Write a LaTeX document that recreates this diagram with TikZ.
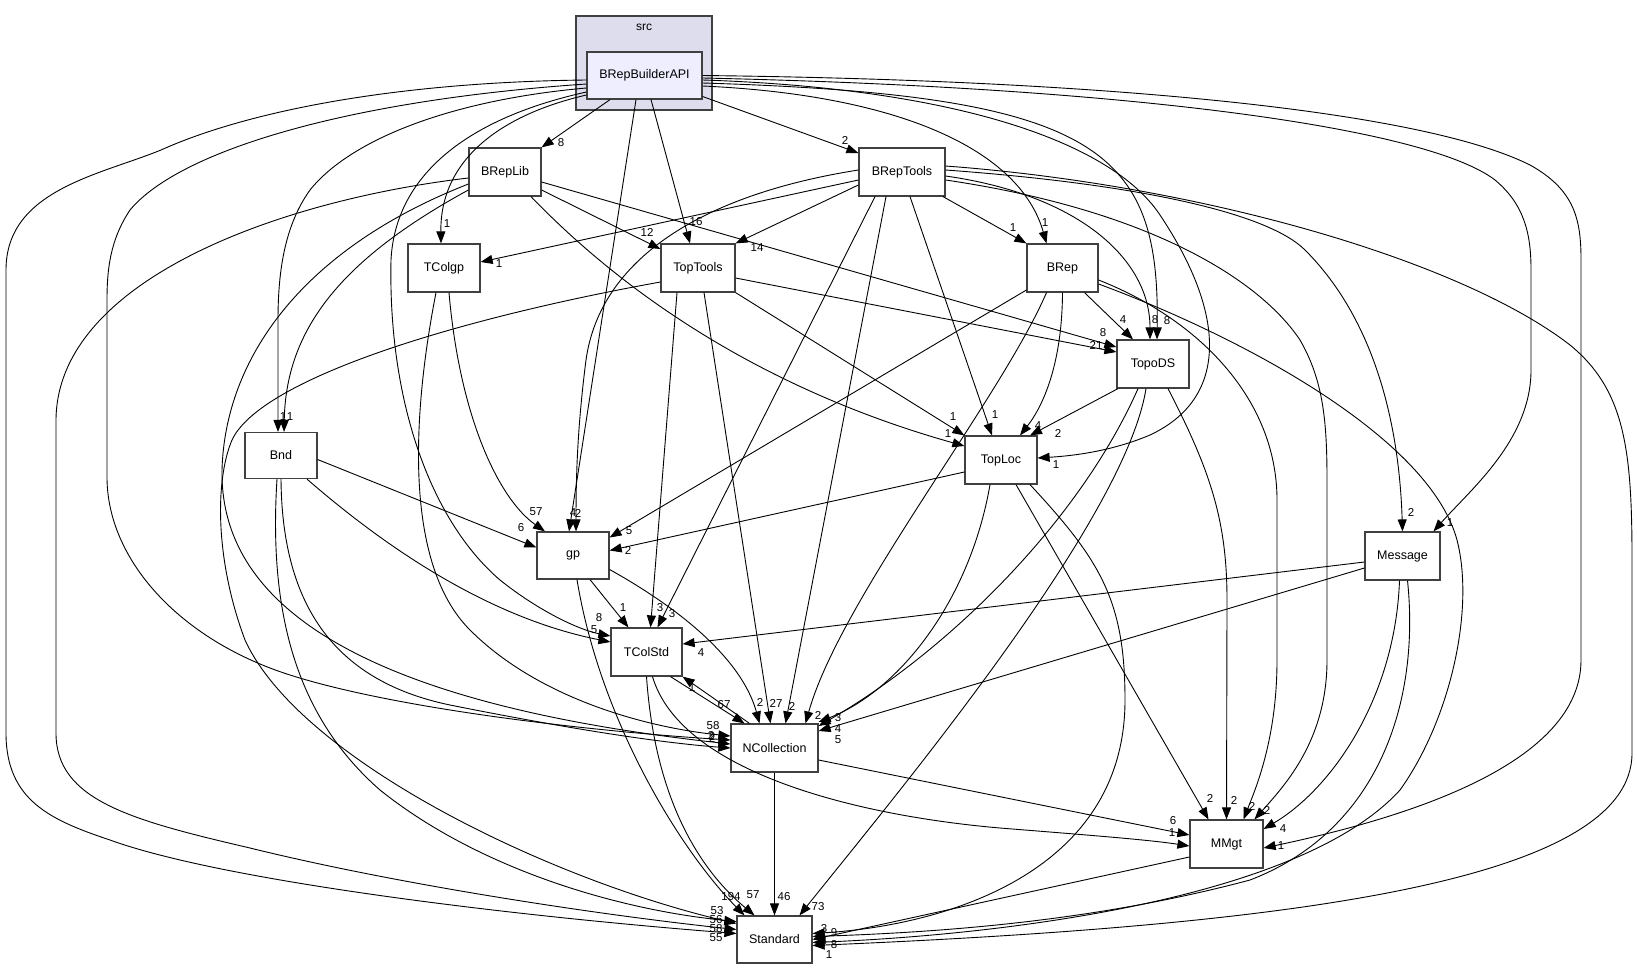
\documentclass[tikz,border=0pt]{standalone}
\usepackage{fontspec}
\setmainfont{Liberation Sans}
\usetikzlibrary{arrows.meta}
\definecolor{clusterbg}{RGB}{221,221,238}
\definecolor{apibg}{RGB}{238,238,255}
\definecolor{boxline}{RGB}{64,64,64}

\begin{document}
\begin{tikzpicture}[
    x=1pt, y=-1pt,
    pkg/.style={rectangle, draw=boxline, line width=1.2pt, fill=white, minimum width=72pt, minimum height=48pt, inner sep=0pt, font=\fontsize{12.5}{14}\selectfont},
    cluster/.style={rectangle, draw=boxline, line width=1.2pt, fill=clusterbg, inner sep=0pt},
    dep/.style={-{Triangle[length=12pt,width=9pt]}, line width=0.9pt},
    lbl/.style={font=\fontsize{11.5}{12}\selectfont, inner sep=0pt}
]
    \fill[white] (0,0) rectangle (1637,969);
    \useasboundingbox (0,0) rectangle (1637,969);

    \node[cluster, minimum width=136pt, minimum height=94pt] (srcbox) at (644,63) {};
    \node[font=\fontsize{12}{14}\selectfont] (srclbl) at (644,27) {src};
    \node[pkg, fill=apibg, minimum width=115pt, minimum height=47pt] (api) at (644.5,75.5) {BRepBuilderAPI};

    \node[pkg] (breplib) at (505,172) {BRepLib};
    \node[pkg, minimum width=86pt] (breptools) at (902,172) {BRepTools};
    \node[pkg] (tcolgp) at (444,268) {TColgp};
    \node[pkg, minimum width=74pt] (toptools) at (698,268) {TopTools};
    \node[pkg, minimum width=71pt] (brep) at (1062.5,268) {BRep};
    \node[pkg] (topods) at (1153,364) {TopoDS};
    \node[pkg, minimum height=46pt] (bnd) at (281,455.5) {Bnd};
    \node[pkg] (toploc) at (1001,460) {TopLoc};
    \node[pkg, minimum height=47pt] (gp) at (573,555.5) {gp};
    \node[pkg, minimum width=75pt] (message) at (1402.5,556) {Message};
    \node[pkg, minimum width=71pt] (tcolstd) at (646.5,652) {TColStd};
    \node[pkg, minimum width=87pt] (ncoll) at (774.5,748) {NCollection};
    \node[pkg, minimum width=73pt] (mmgt) at (1226.5,844) {MMgt};
    \node[pkg, minimum width=75pt, minimum height=47pt] (standard) at (774.5,939.5) {Standard};

    % BRepBuilderAPI
    \draw[dep] ([xshift=-34.5pt]api.south) -- (breplib.north east) node[lbl] at (561,143) {8};
    \draw[dep] ([yshift=-21pt]api.east) -- ([yshift=19pt]breptools.west) node[lbl] at (845,140) {2};
    \draw[dep] ([xshift=6.5pt]api.south) -- ([xshift=-8pt]toptools.north) node[lbl] at (696,222) {16};
    \draw[dep] ([xshift=-8.5pt]api.south) -- ([xshift=-4pt]gp.north) node[lbl] at (573,513) {4};
    \draw[dep] ([yshift=-19.5pt]api.west) .. controls (500,115) and (440,160) .. ([xshift=-3pt]tcolgp.north) node[lbl] at (447,224) {1};
    \draw[dep] ([yshift=-12.5pt]api.west) .. controls (450,100) and (350,140) .. (310,190) .. controls (285,225) and (278,270) .. (278,320) -- ([xshift=-3pt]bnd.north) node[lbl] at (283,417) {1};
    \draw[dep] ([yshift=-16.5pt]api.west) .. controls (460,120) and (395,180) .. (391,260) .. controls (388,400) and (430,520) .. (500,580) .. controls (540,612) and (580,630) .. ([yshift=16pt]tcolstd.west) node[lbl] at (599,618) {8};
    \draw[dep] ([yshift=-8.5pt]api.west) .. controls (350,100) and (180,150) .. (130,210) .. controls (110,240) and (107,270) .. (107,300) -- (107,477) .. controls (107,560) and (180,640) .. (290,675) .. controls (400,710) and (600,732) .. ([yshift=8pt]ncoll.west) node[lbl] at (712,736) {2};
    \draw[dep] ([yshift=-4.5pt]api.west) .. controls (400,82) and (250,110) .. (161,150) .. controls (100,175) and (6,190) .. (6,270) -- (6,733) .. controls (6,800) and (50,820) .. (110,840) .. controls (220,880) and (500,915) .. ([yshift=6pt]standard.west) node[lbl] at (716,938) {55};
    \draw[dep] (api.east) .. controls (1100,80) and (1420,110) .. (1530,165) .. controls (1575,190) and (1581,220) .. (1581,260) -- (1581,660) .. controls (1581,760) and (1420,815) .. ([yshift=-4pt]mmgt.east) node[lbl] at (1281,846) {1};
    \draw[dep] ([yshift=-2.5pt]api.east) .. controls (1150,88) and (1430,130) .. (1495,180) .. controls (1525,205) and (1531,235) .. (1531,270) -- (1531,370) .. controls (1531,440) and (1470,490) .. ([xshift=31pt]message.north) node[lbl] at (1450,523) {1};
    \draw[dep] ([yshift=-4.5pt]api.east) .. controls (950,88) and (1110,140) .. (1160,215) .. controls (1230,320) and (1225,400) .. (1150,435) .. controls (1110,452) and (1070,456) .. ([yshift=2pt]toploc.east) node[lbl] at (1056,465) {1};
    \draw[dep] ([yshift=-7.5pt]api.east) .. controls (1100,95) and (1160,150) .. ([xshift=4pt]topods.north) node[lbl] at (1167,321) {8};
    \draw[dep] ([yshift=-10.5pt]api.east) .. controls (900,95) and (1020,150) .. ([xshift=-16pt]brep.north) node[lbl] at (1045,223) {1};

    % BRepTools
    \draw[dep] ([xshift=41pt]breptools.south) -- (brep.north west) node[lbl] at (1013,228) {1};
    \draw[dep] ([yshift=-4pt]breptools.east) .. controls (1080,195) and (1150,260) .. ([xshift=-3pt]topods.north) node[lbl] at (1155,320) {8};
    \draw[dep] ([yshift=2pt]breptools.east) .. controls (1150,185) and (1270,215) .. (1305,250) .. controls (1385,330) and (1400,450) .. (message.north) node[lbl] at (1411,512) {2};
    \draw[dep] ([yshift=6pt]breptools.east) .. controls (1200,185) and (1460,260) .. (1570,345) .. controls (1625,390) and (1632,450) .. (1632,560) -- (1632,753) .. controls (1632,880) and (1300,925) .. ([yshift=-6pt]standard.east) node[lbl] at (829,955) {1};
    \draw[dep] ([yshift=-8pt]breptools.east) .. controls (1150,210) and (1260,280) .. (1300,340) .. controls (1323,380) and (1327,420) .. (1327,480) -- (1327,660) .. controls (1327,740) and (1285,785) .. ([xshift=28pt]mmgt.north) node[lbl] at (1267,810) {2};
    \draw[dep] ([yshift=-13pt]breptools.west) -- (toptools.north east) node[lbl] at (757,248) {14};
    \draw[dep] ([yshift=-8pt]breptools.west) -- ([yshift=6pt]tcolgp.east) node[lbl] at (499,264) {1};
    \draw[dep] ([yshift=2pt]breptools.west) .. controls (700,195) and (600,260) .. (586,360) .. controls (577,430) and (576,480) .. ([xshift=3pt]gp.north) node[lbl] at (578,513) {2};
    \draw[dep] ([xshift=-27pt]breptools.south) -- ([xshift=11pt]tcolstd.north) node[lbl] at (672,614) {3};
    \draw[dep] ([xshift=-16pt]breptools.south) -- ([xshift=11pt]ncoll.north) node[lbl] at (792,706) {2};
    \draw[dep] ([xshift=8pt]breptools.south) -- ([xshift=-9pt]toploc.north) node[lbl] at (995,415) {1};

    % BRep
    \draw[dep] ([xshift=22pt]brep.south) -- ([xshift=-20pt]topods.north) node[lbl] at (1123,320) {4};
    \draw[dep] (brep.south) .. controls (1062,370) and (1040,410) .. ([xshift=19pt]toploc.north) node[lbl] at (1038,426) {4};
    \draw[dep] ([yshift=-22pt]brep.west) -- ([yshift=18pt]gp.east) node[lbl] at (629,531) {5};
    \draw[dep] ([xshift=-16pt]brep.south) .. controls (1000,400) and (840,600) .. ([xshift=31pt]ncoll.north) node[lbl] at (818,715) {2};
    \draw[dep] ([yshift=-12pt]brep.east) .. controls (1200,320) and (1277,400) .. (1277,500) -- (1277,660) .. controls (1277,740) and (1255,790) .. ([xshift=17pt]mmgt.north) node[lbl] at (1252,806) {2};
    \draw[dep] ([yshift=-16pt]brep.east) .. controls (1250,340) and (1430,440) .. (1457,540) .. controls (1475,610) and (1450,720) .. (1400,790) .. controls (1300,900) and (1000,935) .. ([yshift=-3pt]standard.east) node[lbl] at (834,945) {8};

    % TopoDS
    \draw[dep] ([xshift=-35pt]topods.south) -- ([xshift=29pt]toploc.north) node[lbl] at (1058,433) {2};
    \draw[dep] ([xshift=-15pt]topods.south) .. controls (1080,520) and (950,650) .. ([yshift=22pt]ncoll.east) node[lbl] at (838,729) {4};
    \draw[dep] ([xshift=-7pt]topods.south) .. controls (1125,520) and (900,790) .. ([xshift=25pt]standard.north) node[lbl] at (818,907) {73};
    \draw[dep] ([xshift=15pt]topods.south) .. controls (1210,470) and (1227,520) .. (1227,600) -- (mmgt.north) node[lbl] at (1234,800) {2};

    % TopLoc
    \draw[dep] ([yshift=-12pt]toploc.west) -- ([yshift=5pt]gp.east) node[lbl] at (628,550) {2};
    \draw[dep] ([xshift=-11pt]toploc.south) .. controls (970,600) and (900,690) .. ([yshift=26pt]ncoll.east) node[lbl] at (838,718) {3};
    \draw[dep] ([xshift=15pt]toploc.south) -- ([xshift=-18pt]mmgt.north) node[lbl] at (1210,798) {2};
    \draw[dep] ([xshift=29pt]toploc.south) .. controls (1100,560) and (1125,600) .. (1125,700) .. controls (1125,870) and (950,925) .. ([yshift=6pt]standard.east) node[lbl] at (824,929) {3};

    % TopTools
    \draw[dep] ([yshift=-10pt]toptools.east) -- ([yshift=12pt]topods.west) node[lbl] at (1096,345) {21};
    \draw[dep] ([xshift=-21pt]toptools.south) -- ([xshift=4pt]tcolstd.north) node[lbl] at (660,608) {3};
    \draw[dep] ([xshift=6pt]toptools.south) -- ([xshift=-4pt]ncoll.north) node[lbl] at (776,703) {27};
    \draw[dep] (toptools.south east) -- (toploc.north west) node[lbl] at (953,417) {1};
    \draw[dep] ([yshift=-14pt]toptools.west) .. controls (450,320) and (260,380) .. (232,440) .. controls (215,480) and (215,560) .. (245,640) .. controls (300,760) and (550,880) .. ([yshift=16pt]standard.west) node[lbl] at (716,920) {56};

    % BRepLib
    \draw[dep] ([yshift=-18pt]breplib.east) -- ([yshift=19pt]toptools.west) node[lbl] at (647,232) {12};
    \draw[dep] ([yshift=-10pt]breplib.east) -- ([yshift=17pt]topods.west) node[lbl] at (1103,333) {8};
    \draw[dep] ([xshift=26pt]breplib.south) .. controls (650,320) and (800,400) .. ([yshift=14pt]toploc.west) node[lbl] at (948,434) {1};
    \draw[dep] ([yshift=-18pt]breplib.west) .. controls (340,260) and (286,330) .. ([xshift=3pt]bnd.north) node[lbl] at (290,417) {1};
    \draw[dep] ([yshift=-12pt]breplib.west) .. controls (300,250) and (225,360) .. (222,470) .. controls (220,590) and (330,700) .. ([yshift=4pt]ncoll.west) node[lbl] at (712,738) {2};
    \draw[dep] ([yshift=-6pt]breplib.west) .. controls (280,200) and (57,280) .. (56,420) -- (56,733) .. controls (56,800) and (130,820) .. (250,848) .. controls (400,885) and (600,915) .. ([yshift=10pt]standard.west) node[lbl] at (716,929) {58};

    % TColgp
    \draw[dep] ([xshift=5pt]tcolgp.south) .. controls (460,420) and (500,500) .. ([xshift=-28pt]gp.north) node[lbl] at (536,512) {57};
    \draw[dep] ([xshift=-8pt]tcolgp.south) .. controls (415,400) and (400,560) .. (470,630) .. controls (540,700) and (650,728) .. ([yshift=12pt]ncoll.west) node[lbl] at (713,726) {58};

    % Bnd
    \draw[dep] ([yshift=-4pt]bnd.east) -- ([yshift=8pt]gp.west) node[lbl] at (521,528) {6};
    \draw[dep] ([xshift=26pt]bnd.south) .. controls (400,560) and (500,620) .. ([yshift=10pt]tcolstd.west) node[lbl] at (594,630) {5};
    \draw[dep] (bnd.south) .. controls (282,600) and (330,680) .. (450,705) .. controls (550,725) and (650,742) .. (ncoll.west) node[lbl] at (711,735) {2};
    \draw[dep] ([xshift=-4pt]bnd.south) .. controls (268,620) and (300,720) .. (380,790) .. controls (480,870) and (620,910) .. ([yshift=18pt]standard.west) node[lbl] at (717,911) {53};

    % gp
    \draw[dep] ([xshift=17pt]gp.south) -- ([xshift=-18pt]tcolstd.north) node[lbl] at (623,608) {1};
    \draw[dep] ([yshift=-14pt]gp.east) .. controls (700,620) and (745,670) .. ([xshift=-15pt]ncoll.north) node[lbl] at (760,702) {2};
    \draw[dep] ([xshift=4pt]gp.south) .. controls (600,720) and (680,850) .. ([xshift=-30pt]standard.north) node[lbl] at (731,897) {194};

    % TColStd
    \draw[dep] ([xshift=24pt]tcolstd.south) -- ([xshift=-30pt]ncoll.north) node[lbl] at (724,705) {67};
    \draw[dep] ([xshift=-25pt]ncoll.north) -- (tcolstd.south east) node[lbl] at (692,688) {1};
    \draw[dep] ([xshift=6pt]tcolstd.south) .. controls (680,770) and (850,815) .. (1000,828) .. controls (1100,836) and (1150,840) .. ([yshift=-2pt]mmgt.west) node[lbl] at (1172,833) {1};
    \draw[dep] (tcolstd.south) .. controls (655,800) and (700,870) .. ([xshift=-20pt]standard.north) node[lbl] at (753,895) {57};

    % NCollection
    \draw[dep] ([yshift=-12pt]ncoll.east) -- ([yshift=9pt]mmgt.west) node[lbl] at (1173,821) {6};
    \draw[dep] (ncoll.south) -- (standard.north) node[lbl] at (784,897) {46};

    % Message
    \draw[dep] ([yshift=-6pt]message.west) -- ([yshift=8pt]tcolstd.east) node[lbl] at (701,653) {4};
    \draw[dep] ([yshift=-12pt]message.west) -- ([yshift=17pt]ncoll.east) node[lbl] at (838,740) {5};
    \draw[dep] ([xshift=-3pt]message.south) .. controls (1395,700) and (1330,790) .. ([yshift=15pt]mmgt.east) node[lbl] at (1283,829) {4};
    \draw[dep] ([xshift=5pt]message.south) .. controls (1420,700) and (1380,830) .. (1250,880) .. controls (1100,920) and (950,932) .. ([yshift=3pt]standard.east) node[lbl] at (834,933) {9};

    % MMgt
    \draw[dep] ([yshift=-13pt]mmgt.west) -- (standard.east) node[lbl] at (824,941) {4};
\end{tikzpicture}
\end{document}
